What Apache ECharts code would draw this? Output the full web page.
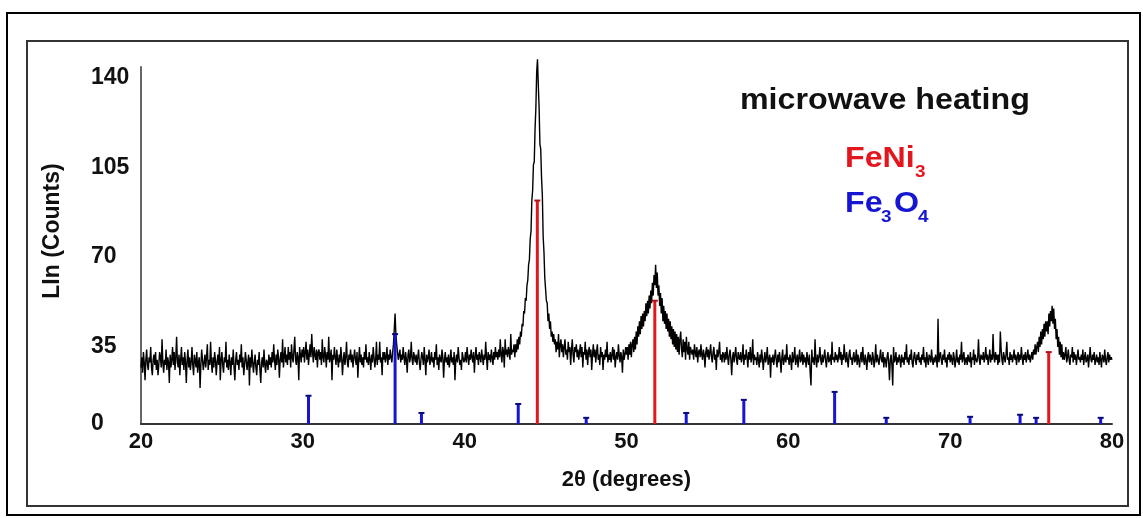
<!DOCTYPE html>
<html><head><meta charset="utf-8">
<script src="https://cdn.jsdelivr.net/npm/echarts@6/dist/echarts.min.js"></script>
<style>html,body{margin:0;padding:0;background:#fff}#c{width:1143px;height:518px}</style>
</head><body><div id="c"></div>
<script>
// XRD scan: 2theta from 20 to 80 in 0.05 steps, one row per degree
const scanStart = 20, scanStep = 0.05;
const counts = [
27,31,25,33,29,22,30,34,28,26,31,29,35,27,24,30,32,28,33,26,
30,24,28,33,31,27,38,29,25,30,28,34,26,31,29,21,32,27,30,35,
28,33,26,31,39,29,27,32,24,30,35,28,31,26,33,29,21,30,34,27,
31,26,29,35,28,24,32,30,27,33,25,29,31,19,28,34,30,26,29,32,
27,31,36,26,30,28,37,29,25,31,27,33,30,24,29,32,28,35,22,30,
33,28,25,31,29,37,27,30,26,32,29,24,31,28,34,27,22,30,33,28,
30,26,32,29,36,27,31,24,28,33,30,26,29,32,20,31,27,34,29,25,
29,32,27,24,30,28,33,26,21,29,31,27,34,28,25,30,29,26,32,28,
31,27,33,29,36,30,26,32,28,34,31,23,30,33,29,38,27,31,35,29,
32,28,35,30,33,27,36,31,29,34,39,30,28,33,31,22,35,32,29,34,
31,35,29,33,37,30,34,28,32,36,31,40,33,29,35,32,30,34,27,33,
34,30,33,28,38,31,29,35,32,27,33,30,39,29,31,34,22,32,30,35,
31,28,34,30,27,32,29,35,31,24,30,33,28,31,37,29,27,32,30,34,
29,32,27,31,34,30,28,33,23,30,35,29,32,28,31,27,33,30,36,29,
31,28,33,30,26,32,29,35,31,27,30,37,28,32,30,37,29,31,24,33,
30,33,29,31,35,28,32,30,34,31,29,33,36,42,48,40,36,33,30,32,
34,29,32,30,35,31,28,33,30,25,32,34,29,31,37,30,28,33,31,29,
32,28,31,34,29,26,30,33,31,28,35,30,24,32,29,31,34,28,30,33,
29,31,27,33,30,36,28,31,26,32,30,29,34,31,23,30,33,29,31,28,
32,27,30,34,29,31,28,33,22,30,32,29,35,31,28,30,26,33,31,29,
30,33,29,35,31,28,32,30,34,31,29,33,25,31,35,30,32,28,33,31,
29,34,31,28,32,30,37,31,26,33,30,32,29,34,31,28,33,30,35,31,
33,30,34,31,38,32,29,35,33,27,38,32,34,31,35,33,30,40,32,34,
33,36,31,36,33,38,34,39,36,41,39,44,43,49,48,54,53,59,61,67,
69,77,80,92,96,106,107,120,128,142,147,137,128,114,112,101,94,78,72,62,
62,53,52,45,48,42,45,39,41,37,40,36,38,33,37,34,40,31,36,38,
33,36,31,35,38,32,34,30,37,33,35,28,34,38,32,29,35,33,36,31,
34,30,33,36,31,35,27,33,32,37,30,34,28,33,35,31,34,26,32,36,
31,34,29,33,36,30,32,28,35,31,33,26,32,30,34,31,37,29,32,30,
33,29,32,35,30,34,27,31,33,30,36,32,29,33,31,25,34,30,32,35,
32,35,30,36,32,37,31,36,38,33,39,34,41,36,43,39,45,40,47,42,
48,43,49,45,52,47,53,48,55,50,57,52,60,55,63,59,67,58,64,55,
59,51,56,48,54,45,51,44,49,42,48,41,46,39,45,38,43,36,42,35,
41,34,40,33,39,32,38,41,34,31,38,33,37,30,39,34,32,37,30,35,
35,32,34,30,36,33,31,35,29,33,34,31,36,32,30,34,32,27,33,35,
31,34,30,33,36,31,29,33,35,30,32,26,34,31,33,37,30,32,29,33,
32,29,33,30,35,31,28,32,34,30,24,31,33,29,32,35,30,28,33,31,
30,33,29,31,36,28,32,30,34,31,27,33,30,35,29,31,38,28,32,30,
31,28,33,30,27,32,29,34,31,26,30,33,29,31,35,28,30,32,23,31,
29,32,28,31,34,30,27,32,29,33,30,25,31,34,28,30,32,29,36,30,
31,28,32,30,26,33,29,31,35,28,30,32,27,31,34,29,30,33,28,32,
29,31,27,33,30,28,32,25,20,34,29,31,28,38,30,27,32,29,31,35,
30,28,32,29,31,34,30,27,31,33,29,30,32,28,37,30,31,29,33,30,
32,29,31,35,30,33,28,32,30,36,31,29,33,30,27,32,34,30,31,28,
31,33,29,30,34,28,32,30,27,31,33,29,35,30,28,32,30,26,31,33,
29,32,30,28,33,31,27,30,36,29,32,30,28,31,34,30,29,33,27,31,
30,27,31,33,29,22,30,32,28,20,35,29,30,33,28,31,29,32,30,27,
32,29,31,28,33,30,36,29,31,28,32,30,34,29,27,31,33,30,28,32,
30,33,29,31,28,32,30,35,29,31,27,33,30,28,32,31,29,34,30,28,
31,29,32,30,27,46,29,31,33,30,28,32,30,34,29,31,27,32,30,33,
29,32,30,28,33,31,27,30,34,29,31,28,32,30,37,29,31,33,28,30,
31,28,32,30,29,33,27,31,30,34,28,32,30,29,31,38,30,28,32,31,
30,33,29,31,35,30,32,28,31,34,29,32,30,40,31,29,33,30,32,28,
32,29,41,34,30,28,33,31,29,32,37,30,31,28,33,30,32,29,31,34,
30,32,28,31,33,29,32,30,35,31,28,32,30,33,29,31,34,30,32,29,
31,33,30,34,32,36,32,35,37,33,39,35,41,36,42,38,44,39,45,41,
45,40,48,43,49,45,51,44,50,42,46,38,42,35,39,32,37,31,36,30,
33,30,32,35,29,31,34,30,28,32,31,35,29,33,30,32,28,31,34,30,
31,29,32,30,34,28,31,33,29,30,32,27,31,35,30,29,32,30,33,28,
30,32,29,31,28,33,30,27,32,31,29,34,30,28,31,33,29,32,30,31,
30
];

const xTicks = [20, 30, 40, 50, 60, 70, 80];
const yTickValues = [5, 35, 70, 105, 140];
const yTickLabels = ['0', '35', '70', '105', '140'];
const yMin = 5, yMax = 144;

// reference patterns (stick positions and heights)
const feni3Pos = [44.49, 51.75, 76.09];
const feni3Int = [92, 53, 33];
const fe3o4Pos = [30.35, 35.70, 37.33, 43.31, 47.51, 53.69, 57.25, 62.86, 66.05, 71.23, 74.32, 75.31, 79.30];
const fe3o4Int = [16, 40, 9.3, 12.8, 7.4, 9.3, 14.4, 17.5, 7.4, 7.8, 8.6, 7.4, 7.4];

const RED = '#e3161e', BLUE = '#1616d2';
const FONT = '"Liberation Sans", Arial, sans-serif';

const scanData = counts.map((c, i) => [+(scanStart + i * scanStep).toFixed(2), c]);

function stickRenderer(color, capColor) {
  return function (params, api) {
    const top = api.coord([api.value(0), api.value(1)]);
    const base = api.coord([api.value(0), yMin]);
    return {
      type: 'group',
      children: [
        { type: 'line', shape: { x1: top[0], y1: base[1], x2: top[0], y2: top[1] }, style: { stroke: color, lineWidth: 3 } },
        { type: 'line', shape: { x1: top[0] - 3, y1: top[1], x2: top[0] + 3, y2: top[1] }, style: { stroke: capColor, lineWidth: 2 } }
      ]
    };
  };
}

const chart = echarts.init(document.getElementById('c'));
chart.setOption({
  animation: false,
  backgroundColor: '#fff',
  textStyle: { fontFamily: FONT },
  grid: { left: 141, right: 31, top: 67, bottom: 94 },
  xAxis: {
    type: 'value', min: 20, max: 80, interval: 10,
    name: '2θ (degrees)', nameLocation: 'middle', nameGap: 45,
    nameTextStyle: { fontSize: 22, fontWeight: 'bold', color: '#111', fontFamily: FONT },
    axisLine: { show: true, lineStyle: { color: '#333', width: 2 } },
    axisTick: { show: false },
    splitLine: { show: false },
    axisLabel: { fontSize: 22, fontWeight: 'bold', color: '#111', margin: 7, fontFamily: FONT,
      customValues: xTicks }
  },
  yAxis: {
    type: 'value', min: yMin, max: yMax,
    name: 'LIn (Counts)', nameLocation: 'middle', nameGap: 77,
    nameTextStyle: { fontSize: 23, fontWeight: 'bold', color: '#111', fontFamily: FONT, padding: [0, 0, 0, 29] },
    axisLine: { show: true, lineStyle: { color: '#666', width: 2 } },
    axisTick: { show: false },
    splitLine: { show: false },
    axisLabel: {
      customValues: yTickValues,
      formatter: v => yTickLabels[yTickValues.indexOf(v)] ?? '',
      fontSize: 23, fontWeight: 'bold', color: '#111', align: 'left', margin: 50, fontFamily: FONT
    }
  },
  series: [
    {
      type: 'line', data: scanData, showSymbol: false, clip: false, sampling: false,
      lineStyle: { color: '#000', width: 1.4 }, z: 2
    },
    {
      type: 'custom', data: feni3Pos.map((p, i) => [p, feni3Int[i]]),
      renderItem: stickRenderer(RED, '#b0101a'), z: 3
    },
    {
      type: 'custom', data: fe3o4Pos.map((p, i) => [p, fe3o4Int[i]]),
      renderItem: stickRenderer(BLUE, '#0a0a80'), z: 3
    }
  ],
  graphic: [
    { type: 'rect', shape: { x: 7, y: 13, width: 1133, height: 502 }, style: { fill: 'none', stroke: '#000', lineWidth: 2 }, silent: true },
    { type: 'rect', shape: { x: 27, y: 41, width: 1101, height: 465 }, style: { fill: 'none', stroke: '#333', lineWidth: 2 }, silent: true },
    { type: 'text', x: 740, y: 101, scaleX: 1.11, style: { text: 'microwave heating', font: 'bold 29px ' + FONT, fill: '#111', verticalAlign: 'middle' } },
    { type: 'text', x: 845, y: 159, scaleX: 1.11, style: { text: 'FeNi', font: 'bold 29px ' + FONT, fill: RED, verticalAlign: 'middle' } },
    { type: 'text', x: 915, y: 172, scaleX: 1.11, style: { text: '3', font: 'bold 17px ' + FONT, fill: RED, verticalAlign: 'middle' } },
    { type: 'text', x: 845, y: 204, scaleX: 1.11, style: { text: 'Fe', font: 'bold 29px ' + FONT, fill: BLUE, verticalAlign: 'middle' } },
    { type: 'text', x: 881, y: 217, scaleX: 1.11, style: { text: '3', font: 'bold 17px ' + FONT, fill: BLUE, verticalAlign: 'middle' } },
    { type: 'text', x: 894, y: 204, scaleX: 1.11, style: { text: 'O', font: 'bold 29px ' + FONT, fill: BLUE, verticalAlign: 'middle' } },
    { type: 'text', x: 918, y: 217, scaleX: 1.11, style: { text: '4', font: 'bold 17px ' + FONT, fill: BLUE, verticalAlign: 'middle' } }
  ]
});
</script>
</body></html>
